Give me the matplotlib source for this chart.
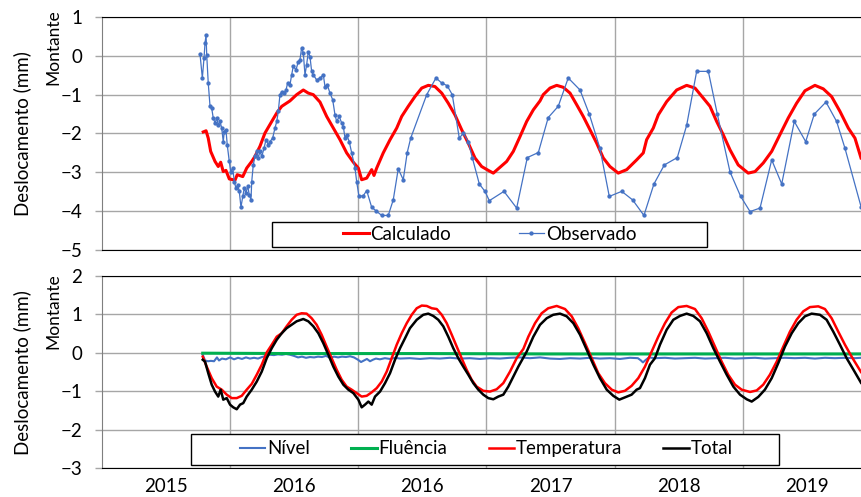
import matplotlib
matplotlib.use('Agg')
import matplotlib.pyplot as plt
from matplotlib.patches import Rectangle

plt.rcParams['font.family'] = ['Lato', 'DejaVu Sans']

# time axis: years counted from the left edge of the plot area
year_labels = ['2015', '2016', '2016', '2017', '2018', '2019']

# ---- top panel: Calculado vs Observado (mm)
calc_t = [0.793, 0.815, 0.832, 0.851, 0.885, 0.910, 0.929, 0.949, 0.970, 0.996,
          1.041, 1.058, 1.101, 1.132, 1.171, 1.196, 1.235, 1.274, 1.327, 1.370,
          1.405, 1.469, 1.521, 1.573, 1.612, 1.651, 1.703, 1.755, 1.807, 1.859,
          1.911, 1.963, 2.002, 2.028, 2.067, 2.106, 2.124, 2.145, 2.196, 2.249,
          2.301, 2.340, 2.391, 2.443, 2.496, 2.547, 2.599, 2.652, 2.703, 2.755,
          2.807, 2.859, 2.911, 2.963, 3.015, 3.054, 3.106, 3.158, 3.210, 3.262,
          3.314, 3.366, 3.418, 3.443, 3.496, 3.548, 3.599, 3.652, 3.704, 3.755,
          3.807, 3.860, 3.911, 3.963, 4.028, 4.094, 4.171, 4.223, 4.249, 4.301,
          4.340, 4.405, 4.483, 4.561, 4.626, 4.691, 4.743, 4.795, 4.846, 4.899,
          4.963, 5.041, 5.094, 5.158, 5.224, 5.288, 5.353, 5.418, 5.483, 5.561,
          5.626, 5.691, 5.756, 5.821, 5.873, 5.920]
calc_v = [-1.96, -1.93, -2.12, -2.46, -2.72, -2.85, -2.74, -2.98, -2.95, -3.17,
          -3.20, -3.06, -3.11, -2.89, -2.72, -2.59, -2.33, -1.99, -1.69, -1.45,
          -1.30, -1.16, -1.00, -0.88, -0.96, -1.00, -1.19, -1.56, -1.86, -2.16,
          -2.50, -2.74, -2.89, -3.19, -3.15, -2.93, -3.08, -2.89, -2.50, -2.16,
          -1.86, -1.56, -1.30, -1.05, -0.83, -0.76, -0.79, -0.96, -1.22, -1.52,
          -1.90, -2.25, -2.63, -2.85, -2.95, -3.02, -2.87, -2.72, -2.46, -2.08,
          -1.69, -1.39, -1.16, -1.00, -0.83, -0.76, -0.81, -0.96, -1.26, -1.56,
          -1.90, -2.25, -2.63, -2.85, -3.02, -2.93, -2.68, -2.50, -2.16, -1.86,
          -1.52, -1.18, -0.88, -0.76, -0.83, -1.09, -1.30, -1.69, -2.03, -2.42,
          -2.81, -3.02, -2.98, -2.76, -2.46, -2.03, -1.60, -1.22, -0.90, -0.76,
          -0.85, -1.05, -1.43, -1.86, -2.12, -2.63]

obs_t = [0.768, 0.786, 0.799, 0.807, 0.815, 0.820, 0.832, 0.846, 0.859, 0.871,
         0.885, 0.898, 0.910, 0.924, 0.937, 0.949, 0.957, 0.970, 0.980, 0.996,
         1.007, 1.023, 1.035, 1.048, 1.062, 1.074, 1.087, 1.101, 1.113, 1.126,
         1.140, 1.152, 1.165, 1.171, 1.183, 1.196, 1.210, 1.222, 1.235, 1.249,
         1.267, 1.282, 1.300, 1.313, 1.334, 1.352, 1.366, 1.378, 1.391, 1.405,
         1.422, 1.438, 1.451, 1.469, 1.482, 1.495, 1.516, 1.534, 1.547, 1.560,
         1.573, 1.586, 1.599, 1.612, 1.625, 1.638, 1.651, 1.677, 1.703, 1.729,
         1.742, 1.760, 1.781, 1.802, 1.820, 1.833, 1.853, 1.872, 1.885, 1.898,
         1.911, 1.931, 1.950, 1.976, 1.989, 2.007, 2.041, 2.067, 2.106, 2.139,
         2.184, 2.235, 2.274, 2.313, 2.352, 2.383, 2.410, 2.535, 2.607, 2.652,
         2.695, 2.734, 2.789, 2.820, 2.859, 2.890, 2.945, 2.989, 3.023, 3.137,
         3.236, 3.319, 3.405, 3.482, 3.560, 3.638, 3.730, 3.802, 3.885, 3.958,
         4.055, 4.140, 4.228, 4.306, 4.387, 4.488, 4.561, 4.639, 4.730, 4.800,
         4.899, 4.982, 5.055, 5.133, 5.224, 5.302, 5.400, 5.489, 5.556, 5.647,
         5.730, 5.795, 5.920]
obs_v = [0.04, -0.57, -0.06, 0.33, 0.54, 0.03, -0.70, -1.30, -1.35, -1.60,
         -1.73, -1.60, -1.78, -1.69, -1.86, -2.21, -1.95, -1.90, -2.29, -2.72,
         -2.98, -2.89, -3.24, -3.41, -3.32, -3.49, -3.90, -3.62, -3.41, -3.53,
         -3.36, -3.58, -3.71, -3.24, -2.81, -2.59, -2.46, -2.63, -2.46, -2.59,
         -2.38, -2.16, -2.29, -2.21, -2.12, -1.86, -1.69, -1.43, -1.00, -0.92,
         -0.96, -0.88, -0.70, -0.75, -0.49, -0.27, -0.36, -0.15, -0.10, 0.21,
         0.07, -0.49, -0.23, 0.11, -0.02, -0.40, -0.49, -0.62, -0.57, -0.49,
         -0.79, -0.75, -0.96, -1.13, -1.52, -1.69, -1.56, -1.73, -1.82, -2.12,
         -2.03, -2.21, -2.50, -2.89, -3.24, -3.62, -3.60, -3.47, -3.90, -3.99,
         -4.11, -4.11, -3.71, -2.91, -3.19, -2.49, -2.12, -1.00, -0.57, -0.70,
         -0.77, -1.00, -2.12, -1.99, -2.21, -2.62, -3.30, -3.49, -3.73, -3.49,
         -3.92, -2.62, -2.49, -1.59, -1.30, -0.57, -0.88, -1.50, -2.38, -3.62,
         -3.49, -3.71, -4.11, -3.30, -2.81, -2.62, -1.79, -0.40, -0.40, -1.50,
         -2.99, -3.62, -4.01, -3.92, -2.68, -3.30, -1.69, -2.21, -1.50, -1.19,
         -1.69, -2.38, -3.88]

# ---- bottom panel: components (mm)
temp_t = [0.789, 0.820, 0.859, 0.898, 0.937, 0.976, 1.015, 1.054, 1.093, 1.132,
          1.171, 1.210, 1.249, 1.288, 1.327, 1.366, 1.405, 1.443, 1.482, 1.521,
          1.560, 1.599, 1.638, 1.677, 1.716, 1.755, 1.794, 1.833, 1.872, 1.911,
          1.950, 1.989, 2.028, 2.067, 2.106, 2.145, 2.184, 2.223, 2.262, 2.301,
          2.340, 2.379, 2.418, 2.457, 2.496, 2.535, 2.574, 2.613, 2.652, 2.691,
          2.730, 2.769, 2.807, 2.846, 2.885, 2.924, 2.976, 3.028, 3.080, 3.132,
          3.184, 3.236, 3.288, 3.327, 3.379, 3.431, 3.482, 3.548, 3.613, 3.665,
          3.716, 3.769, 3.821, 3.872, 3.924, 3.977, 4.028, 4.080, 4.132, 4.184,
          4.236, 4.288, 4.340, 4.392, 4.444, 4.496, 4.561, 4.626, 4.678, 4.730,
          4.782, 4.834, 4.885, 4.938, 4.990, 5.055, 5.107, 5.158, 5.210, 5.263,
          5.314, 5.366, 5.418, 5.470, 5.522, 5.587, 5.639, 5.691, 5.743, 5.795,
          5.847, 5.920]
temp_v = [-0.10, -0.36, -0.66, -0.88, -0.96, -1.09, -1.18, -1.18, -1.12, -0.96,
          -0.81, -0.57, -0.31, 0.01, 0.21, 0.42, 0.51, 0.69, 0.86, 0.99,
          1.03, 1.02, 0.90, 0.73, 0.47, 0.16, -0.14, -0.44, -0.70, -0.88,
          -0.96, -1.05, -1.14, -1.12, -1.03, -0.92, -0.75, -0.49, -0.14, 0.21,
          0.51, 0.77, 0.99, 1.16, 1.23, 1.22, 1.16, 1.14, 0.99, 0.77,
          0.47, 0.16, -0.14, -0.44, -0.70, -0.88, -0.99, -1.01, -0.95, -0.79,
          -0.49, -0.14, 0.10, 0.42, 0.77, 1.03, 1.16, 1.22, 1.14, 0.95,
          0.64, 0.25, -0.14, -0.53, -0.79, -0.96, -1.03, -0.99, -0.86, -0.66,
          -0.36, 0.03, 0.42, 0.77, 1.05, 1.19, 1.22, 1.14, 0.90, 0.55,
          0.16, -0.23, -0.57, -0.83, -0.96, -1.02, -0.98, -0.83, -0.57, -0.23,
          0.16, 0.55, 0.86, 1.08, 1.19, 1.21, 1.14, 0.90, 0.55, 0.21,
          -0.10, -0.50]

total_t = [0.789, 0.807, 0.832, 0.859, 0.885, 0.910, 0.929, 0.949, 0.976, 1.002,
           1.027, 1.054, 1.080, 1.105, 1.132, 1.171, 1.210, 1.249, 1.288, 1.327,
           1.366, 1.405, 1.443, 1.482, 1.521, 1.573, 1.612, 1.651, 1.690, 1.729,
           1.768, 1.807, 1.846, 1.885, 1.924, 1.963, 2.002, 2.028, 2.054, 2.080,
           2.106, 2.132, 2.171, 2.210, 2.249, 2.288, 2.327, 2.366, 2.404, 2.457,
           2.508, 2.547, 2.586, 2.625, 2.664, 2.703, 2.742, 2.781, 2.820, 2.859,
           2.898, 2.937, 2.976, 3.015, 3.054, 3.093, 3.132, 3.171, 3.210, 3.249,
           3.314, 3.366, 3.418, 3.470, 3.521, 3.574, 3.626, 3.678, 3.730, 3.782,
           3.834, 3.885, 3.938, 3.989, 4.036, 4.088, 4.132, 4.171, 4.197, 4.236,
           4.275, 4.314, 4.353, 4.405, 4.457, 4.509, 4.561, 4.613, 4.665, 4.717,
           4.769, 4.821, 4.873, 4.925, 4.977, 5.029, 5.068, 5.119, 5.171, 5.224,
           5.275, 5.327, 5.380, 5.431, 5.483, 5.535, 5.600, 5.652, 5.704, 5.756,
           5.808, 5.861, 5.920]
total_v = [-0.18, -0.23, -0.53, -0.83, -1.01, -1.14, -0.96, -1.22, -1.18, -1.35,
           -1.42, -1.47, -1.35, -1.31, -1.14, -0.96, -0.75, -0.49, -0.14, 0.12,
           0.34, 0.51, 0.64, 0.73, 0.82, 0.88, 0.82, 0.69, 0.51, 0.25,
           -0.05, -0.36, -0.62, -0.83, -0.96, -1.05, -1.22, -1.42, -1.35, -1.27,
           -1.35, -1.14, -1.01, -0.79, -0.53, -0.18, 0.12, 0.38, 0.64, 0.86,
           0.99, 1.02, 0.96, 0.86, 0.69, 0.42, 0.12, -0.14, -0.36, -0.57,
           -0.79, -0.96, -1.09, -1.18, -1.21, -1.14, -1.09, -0.88, -0.62, -0.36,
           0.03, 0.42, 0.73, 0.90, 0.99, 1.02, 0.95, 0.77, 0.47, 0.08,
           -0.31, -0.66, -0.96, -1.12, -1.22, -1.15, -1.09, -0.96, -0.92, -0.66,
           -0.31, -0.14, 0.21, 0.60, 0.86, 0.96, 1.02, 0.96, 0.82, 0.51,
           0.12, -0.23, -0.57, -0.88, -1.09, -1.21, -1.27, -1.15, -0.96, -0.66,
           -0.27, 0.16, 0.51, 0.77, 0.95, 1.02, 0.99, 0.86, 0.55, 0.21,
           -0.14, -0.44, -0.78]

nivel_t = [0.789, 0.807, 0.830, 0.853, 0.877, 0.900, 0.916, 0.939, 0.970, 1.002,
           1.033, 1.064, 1.095, 1.126, 1.157, 1.189, 1.220, 1.251, 1.282, 1.313,
           1.344, 1.375, 1.407, 1.438, 1.469, 1.500, 1.532, 1.563, 1.594, 1.625,
           1.657, 1.688, 1.719, 1.750, 1.781, 1.813, 1.844, 1.875, 1.906, 1.937,
           1.968, 1.999, 2.023, 2.046, 2.069, 2.093, 2.116, 2.139, 2.170, 2.209,
           2.249, 2.288, 2.327, 2.404, 2.482, 2.560, 2.638, 2.716, 2.794, 2.872,
           2.950, 3.028, 3.106, 3.184, 3.262, 3.340, 3.418, 3.496, 3.574, 3.652,
           3.730, 3.808, 3.885, 3.963, 4.041, 4.119, 4.181, 4.205, 4.220, 4.244,
           4.267, 4.314, 4.392, 4.470, 4.548, 4.626, 4.704, 4.782, 4.860, 4.938,
           5.016, 5.094, 5.171, 5.249, 5.327, 5.405, 5.483, 5.561, 5.639, 5.717,
           5.795, 5.873, 5.920]
nivel_v = [-0.05, -0.20, -0.22, -0.21, -0.22, -0.12, -0.20, -0.15, -0.17, -0.12,
           -0.17, -0.13, -0.16, -0.12, -0.15, -0.13, -0.15, -0.11, -0.08, -0.05,
           -0.06, -0.04, -0.05, -0.03, -0.05, -0.08, -0.12, -0.10, -0.13, -0.11,
           -0.12, -0.10, -0.11, -0.08, -0.13, -0.10, -0.12, -0.10, -0.11, -0.09,
           -0.12, -0.18, -0.24, -0.20, -0.16, -0.22, -0.18, -0.15, -0.17, -0.14,
           -0.16, -0.13, -0.15, -0.14, -0.16, -0.14, -0.15, -0.13, -0.15, -0.14,
           -0.16, -0.14, -0.15, -0.13, -0.12, -0.14, -0.12, -0.15, -0.16, -0.14,
           -0.15, -0.13, -0.15, -0.14, -0.16, -0.13, -0.14, -0.20, -0.25, -0.18,
           -0.12, -0.14, -0.13, -0.15, -0.14, -0.13, -0.15, -0.14, -0.13, -0.15,
           -0.14, -0.13, -0.15, -0.14, -0.13, -0.14, -0.13, -0.15, -0.13, -0.14,
           -0.13, -0.14, -0.13]

fluencia_t = [0.789, 1.500, 2.500, 3.500, 4.500, 5.920]
fluencia_v = [-0.01, -0.02, -0.02, -0.03, -0.03, -0.03]

BLUE = '#4472C4'
GRID = '#A6A6A6'

fig = plt.figure(figsize=(8.61, 4.97), dpi=100)
ax1 = fig.add_axes([101.5 / 861, 1 - 250 / 497, 759.5 / 861, 233 / 497])
ax2 = fig.add_axes([101.5 / 861, 1 - 468 / 497, 759.5 / 861, 192 / 497])

l_calc, = ax1.plot(calc_t, calc_v, color='#FF0000', lw=2.2, label='Calculado')
l_obs, = ax1.plot(obs_t, obs_v, color=BLUE, lw=0.9, marker='o', ms=2.1,
                  label='Observado')

l_niv, = ax2.plot(nivel_t, nivel_v, color=BLUE, lw=1.5, label='Nível')
l_flu, = ax2.plot(fluencia_t, fluencia_v, color='#00B050', lw=2.2, label='Fluência')
l_tmp, = ax2.plot(temp_t, temp_v, color='#FF0000', lw=1.8, label='Temperatura')
l_tot, = ax2.plot(total_t, total_v, color='black', lw=1.8, label='Total')

for ax, lims in ((ax1, (-5, 1)), (ax2, (-3, 2))):
    ax.set_xlim(0, 5.92)
    ax.set_ylim(*lims)
    ax.set_yticks(range(lims[0], lims[1] + 1))
    ax.set_xticks([1, 2, 3, 4, 5])
    ax.set_xticklabels([])
    ax.grid(True, color=GRID, lw=1.0)
    ax.set_axisbelow(True)
    ax.tick_params(axis='y', length=5, width=1, color=GRID, pad=9, labelsize=13.5)
    ax.tick_params(axis='x', which='both', length=0)
    ax.spines['right'].set_visible(False)
    ax.spines['left'].set_color('#7F7F7F')
    for s in ('top', 'bottom'):
        ax.spines[s].set_color('black')

ax2.set_xticks([0.5, 1.5, 2.5, 3.5, 4.5, 5.5], minor=True)
ax2.set_xticklabels(year_labels, minor=True, fontsize=13.5)
ax2.tick_params(axis='x', which='minor', pad=7)

# axis titles
for yc, ym in ((0.732, 0.905), (0.2495, 0.374)):
    fig.text(0.0256, yc, 'Deslocamento (mm)', rotation=90, ha='center',
             va='center', fontsize=13.5)
    fig.text(0.0616, ym, 'Montante', rotation=90, ha='center', va='center',
             fontsize=12.5)

# legend boxes
fig.patches.append(Rectangle((272 / 861, 1 - 247 / 497), 435 / 861, 25 / 497,
                             transform=fig.transFigure, facecolor='white',
                             edgecolor='black', lw=1, zorder=4))
fig.patches.append(Rectangle((191 / 861, 1 - 465 / 497), 588 / 861, 31 / 497,
                             transform=fig.transFigure, facecolor='white',
                             edgecolor='black', lw=1, zorder=4))

fig.legend(handles=[l_calc, l_obs], loc='center', ncol=2, frameon=False,
           bbox_to_anchor=(0.569, 0.529), fontsize=13.5, handlelength=1.35,
           handletextpad=0.1, columnspacing=3.6, borderpad=0)
fig.legend(handles=[l_niv, l_flu, l_tmp, l_tot], loc='center', ncol=4,
           frameon=False, bbox_to_anchor=(0.5648, 0.0966), fontsize=13.5,
           handlelength=1.35, handletextpad=0.1, columnspacing=2.2, borderpad=0)

fig.savefig('out.png', dpi=100)
